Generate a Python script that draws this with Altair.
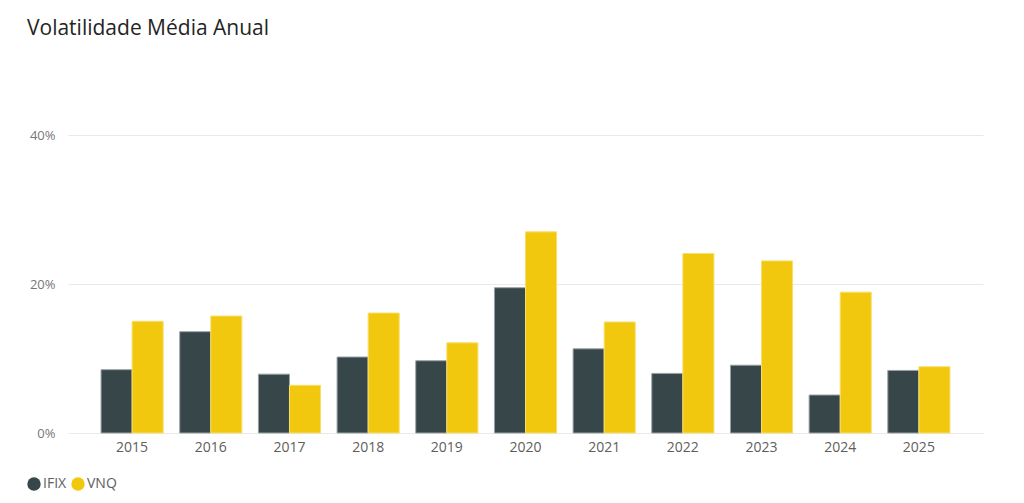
import altair as alt
import pandas as pd

years = ["2015", "2016", "2017", "2018", "2019", "2020", "2021", "2022", "2023", "2024", "2025"]
ifix = [8.5, 13.6, 7.9, 10.2, 9.7, 19.5, 11.3, 8.0, 9.1, 5.1, 8.4]
vnq = [15.0, 15.7, 6.4, 16.1, 12.1, 27.0, 14.9, 24.1, 23.1, 18.9, 8.9]
series = ["IFIX", "VNQ"]
colors = ["#374649", "#F2C80F"]
strokes = ["#9AA3A5", "#F8DE6E"]

rows = []
for i, y in enumerate(years):
    rows.append({"Ano": y, "Série": "IFIX", "Vol": ifix[i] / 100})
    rows.append({"Ano": y, "Série": "VNQ", "Vol": vnq[i] / 100})
df = pd.DataFrame(rows)

FONT = "Open Sans"

chart = (
    alt.Chart(df)
    .mark_bar(strokeWidth=1)
    .encode(
        x=alt.X(
            "Ano:N",
            sort=years,
            title=None,
            scale=alt.Scale(paddingInner=0.21, paddingOuter=0.42),
            axis=alt.Axis(
                labelAngle=0,
                ticks=False,
                domain=False,
                labelFontSize=14,
                labelColor="#605E5C",
                labelFont=FONT,
                labelPadding=7,
            ),
        ),
        xOffset=alt.XOffset("Série:N", sort=series),
        y=alt.Y(
            "Vol:Q",
            title=None,
            scale=alt.Scale(domain=[0, 0.4], nice=False),
            axis=alt.Axis(
                values=[0, 0.2, 0.4],
                format=".0%",
                ticks=False,
                domain=False,
                grid=True,
                gridColor="#E9E9E9",
                labelFontSize=13,
                labelColor="#777777",
                labelFont=FONT,
                labelPadding=13,
            ),
        ),
        color=alt.Color(
            "Série:N",
            sort=series,
            scale=alt.Scale(domain=series, range=colors),
            legend=alt.Legend(
                title=None,
                orient="none",
                legendX=-41,
                legendY=342,
                direction="horizontal",
                symbolType="circle",
                symbolSize=180,
                symbolStrokeWidth=0,
                labelFontSize=14,
                labelColor="#605E5C",
                labelFont=FONT,
                labelOffset=2,
                columnPadding=4,
            ),
        ),
        stroke=alt.Stroke(
            "Série:N",
            sort=series,
            scale=alt.Scale(domain=series, range=strokes),
            legend=None,
        ),
    )
    .properties(
        width=915,
        height=298,
        title=alt.TitleParams(
            "Volatilidade Média Anual",
            anchor="start",
            dx=0,
            offset=90,
            fontSize=21,
            font=FONT,
            fontWeight="normal",
            color="#252423",
        ),
        autosize=alt.AutoSizeParams(type="none"),
        padding={"left": 60, "top": 127, "right": 33, "bottom": 60},
    )
    .configure_view(stroke=None)
)

chart.save("out.html", embed_options={"renderer": "svg", "actions": False})
